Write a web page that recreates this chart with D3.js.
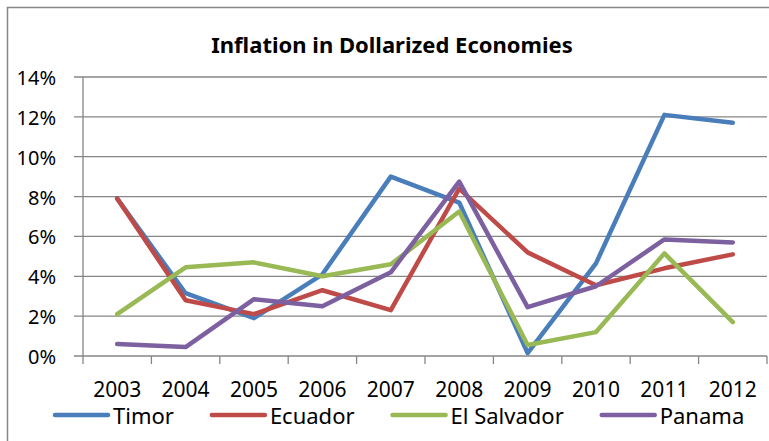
<!DOCTYPE html>
<meta charset="utf-8">
<style>
body { margin: 0; background: #fff; }
svg text { font-family: "Noto Sans", sans-serif; fill: #000; }
.grid line { stroke: #868686; stroke-width: 1.3px; }
.series path { fill: none; stroke-width: 4.5px; stroke-linecap: round; stroke-linejoin: round; }
</style>
<body>
<svg width="769" height="441"></svg>
<script src="https://cdn.jsdelivr.net/npm/d3@7"></script>
<script>

var years = ["2003","2004","2005","2006","2007","2008","2009","2010","2011","2012"];

var timor      = [7.9, 3.15, 1.9, 4.1, 9.0, 7.7, 0.15, 4.65, 12.1, 11.7];
var ecuador    = [7.9, 2.8, 2.1, 3.3, 2.3, 8.4, 5.2, 3.55, 4.4, 5.1];
var elSalvador = [2.1, 4.45, 4.7, 4.0, 4.6, 7.25, 0.55, 1.2, 5.15, 1.7];
var panama     = [0.6, 0.45, 2.85, 2.5, 4.2, 8.75, 2.45, 3.5, 5.85, 5.7];

var seriesNames = ["Timor","Ecuador","El Salvador","Panama"];
var seriesValues = [timor, ecuador, elSalvador, panama];
var colors = ["#4a7ebb","#be4b48","#98b954","#7d60a0"];
var yTicks = [0, 2, 4, 6, 8, 10, 12, 14];

var svg = d3.select("svg");

// chart frame (only top and left edges show in the crop)
svg.append("path")
  .attr("d", "M7.5,441V7.5H769")
  .attr("fill", "none").attr("stroke", "#868686").attr("stroke-width", 1.5);

var x = d3.scaleBand().domain(years).range([83, 767]);
var y = d3.scaleLinear().domain([0, 14]).range([356, 77]);

// horizontal gridlines + y ticks
var grid = svg.append("g").attr("class", "grid");
grid.selectAll(".h").data(yTicks).enter().append("line")
  .attr("x1", 74).attr("x2", 767)
  .attr("y1", d => y(d)).attr("y2", d => y(d));

// y axis line
grid.append("line").attr("x1", 83).attr("x2", 83).attr("y1", y(14)).attr("y2", y(0));

// x ticks at band edges
var edges = years.map(d => x(d)).concat([x.range()[1]]);
grid.selectAll(".v").data(edges).enter().append("line")
  .attr("x1", d => d).attr("x2", d => d)
  .attr("y1", y(0)).attr("y2", y(0) + 8);

svg.append("g").selectAll("text").data(yTicks).enter().append("text")
  .attr("x", 56).attr("y", d => y(d) + 8)
  .attr("text-anchor", "end").style("font-size", "20px")
  .text(d => d + "%");

svg.append("g").selectAll("text").data(years).enter().append("text")
  .attr("x", d => x(d) + x.bandwidth() / 2).attr("y", 397)
  .attr("text-anchor", "middle").style("font-size", "21px")
  .text(d => d);

svg.append("text")
  .attr("x", 392).attr("y", 53)
  .attr("text-anchor", "middle")
  .style("font-size", "22px").style("font-weight", "bold")
  .text("Inflation in Dollarized Economies");

var line = d3.line()
  .x((d, i) => x(years[i]) + x.bandwidth() / 2)
  .y(d => y(d));

svg.append("g").attr("class", "series").selectAll("path").data(seriesValues).enter().append("path")
  .attr("stroke", (d, i) => colors[i])
  .attr("d", line);

// legend, flowed left to right
var lx = 55;
var legend = svg.append("g").attr("class", "series");
seriesNames.forEach(function(name, i){
  legend.append("path")
    .attr("d", "M" + lx + ",415H" + (lx + 53))
    .attr("stroke", colors[i]);
  var t = legend.append("text")
    .attr("x", lx + 58).attr("y", 424)
    .style("font-size", "22px")
    .text(name);
  lx += 58 + t.node().getComputedTextLength() + 38;
});

</script>
</body>
